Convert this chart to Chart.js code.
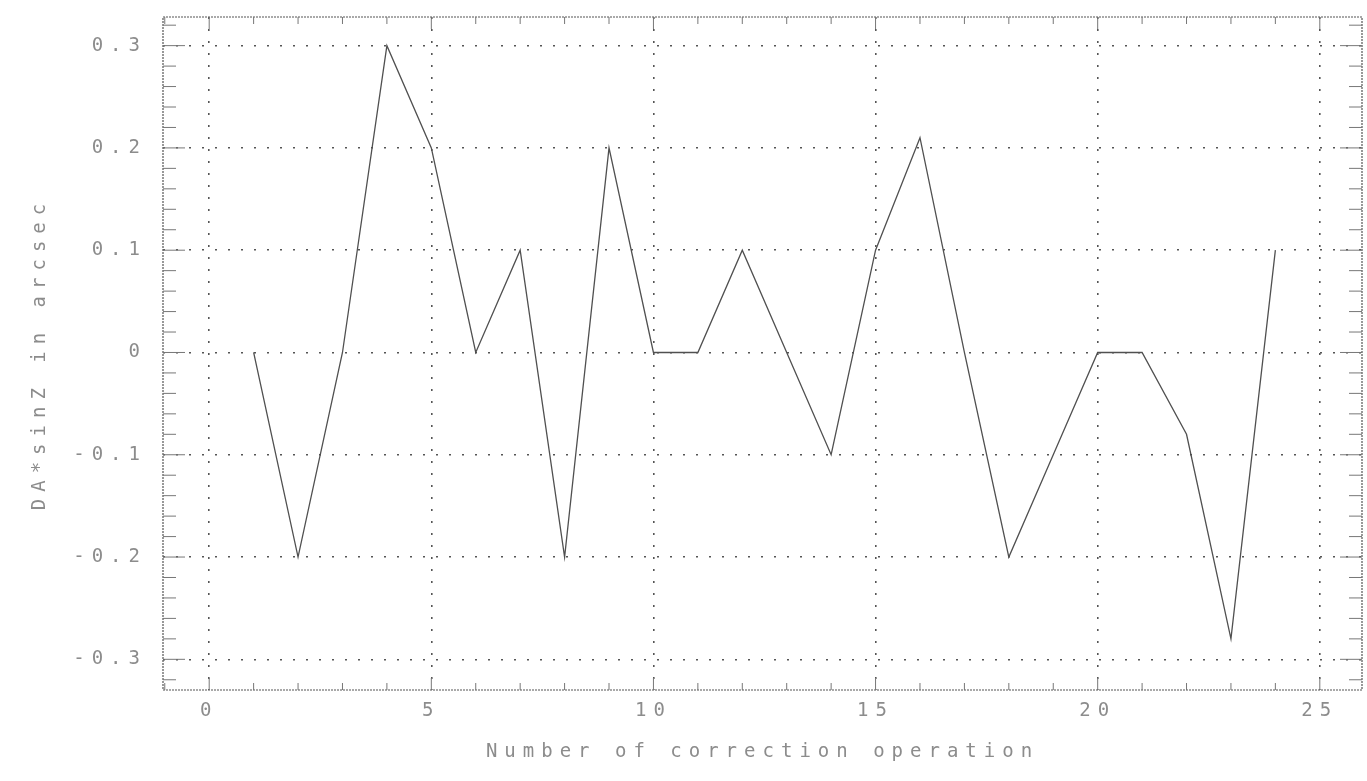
<!DOCTYPE html>
<html lang="en">
<head>
    <meta charset="UTF-8">
    <title>Correction operations</title>
    <script src="https://cdn.jsdelivr.net/npm/chart.js"></script>
    <style>
        html, body { margin: 0; padding: 0; background: #fff; }
        .chart-container { position: relative; width: 1367px; height: 781px; }
    </style>
</head>
<body>
    <div class="chart-container">
        <canvas id="corrChart"></canvas>
    </div>

    <script>
        // values
        const operations = [1, 2, 3, 4, 5, 6, 7, 8, 9, 10, 11, 12, 13, 14, 15, 16, 17, 18, 19, 20, 21, 22, 23, 24];
        const offsets = [0, -0.2, 0, 0.3, 0.2, 0, 0.1, -0.2, 0.2, 0, 0, 0.1, 0, -0.1, 0.1, 0.21, 0, -0.2, -0.1, 0, 0, -0.08, -0.28, 0.1];
        const xTicks = [0, 5, 10, 15, 20, 25];
        const yTicks = [-0.3, -0.2, -0.1, 0, 0.1, 0.2, 0.3];

        const labelFont = { family: 'DejaVu Sans Mono', size: 19 };
        const labelGrey = '#8c8c8c';

        // plotter look: wide letter spacing on all text
        const spacing = {
            id: 'spacing',
            beforeUpdate(chart) { chart.ctx.letterSpacing = '7px'; },
            beforeDraw(chart) { chart.ctx.letterSpacing = '7px'; }
        };

        // dotted frame plus the short inward tick marks on all four sides
        const frame = {
            id: 'frame',
            afterDraw(chart) {
                const ctx = chart.ctx;
                const a = chart.chartArea;
                const x = chart.scales.x;
                const y = chart.scales.y;
                ctx.save();
                ctx.strokeStyle = '#555';
                ctx.lineWidth = 1.2;
                ctx.setLineDash([2, 1]);
                ctx.strokeRect(a.left, a.top, a.right - a.left, a.bottom - a.top);
                ctx.setLineDash([]);
                ctx.beginPath();
                for (let i = -100; i <= 100; i += 2) {
                    const v = i / 100;
                    if (v < y.min || v > y.max) continue;
                    const py = y.getPixelForValue(v);
                    const len = i % 10 === 0 ? 22 : 13;
                    ctx.moveTo(a.left, py); ctx.lineTo(a.left + len, py);
                    ctx.moveTo(a.right, py); ctx.lineTo(a.right - len, py);
                }
                for (let v = -1; v <= 26; v++) {
                    if (v < x.min || v > x.max) continue;
                    const px = x.getPixelForValue(v);
                    const len = v % 5 === 0 ? 12 : 7;
                    ctx.moveTo(px, a.bottom); ctx.lineTo(px, a.bottom - len);
                    ctx.moveTo(px, a.top); ctx.lineTo(px, a.top + len);
                }
                ctx.strokeStyle = '#777';
                ctx.lineWidth = 1;
                ctx.stroke();
                ctx.restore();
            }
        };

        const config = {
            type: 'line',
            data: {
                datasets: [{
                    data: operations.map((op, i) => ({ x: op, y: offsets[i] })),
                    borderColor: '#505050',
                    borderWidth: 1.3,
                    pointRadius: 0,
                    tension: 0,
                    fill: false
                }]
            },
            options: {
                responsive: true,
                maintainAspectRatio: false,
                animation: false,
                layout: { padding: { top: 17, right: 5, left: 0, bottom: 0 } },
                plugins: {
                    legend: { display: false },
                    tooltip: { enabled: false }
                },
                scales: {
                    x: {
                        type: 'linear',
                        min: -1.04,
                        max: 25.95,
                        afterFit: s => { s.height = 91; s.paddingLeft = 0; s.paddingRight = 0; },
                        afterBuildTicks: s => { s.ticks = xTicks.map(v => ({ value: v })); },
                        // in v4 border.dash also dashes the grid lines
                        border: { display: false, dash: [2, 10] },
                        grid: {
                            color: '#555',
                            lineWidth: 1.6,
                            drawTicks: false
                        },
                        ticks: {
                            font: labelFont,
                            color: labelGrey,
                            padding: 10,
                            maxRotation: 0,
                            callback: v => String(v)
                        },
                        title: {
                            display: true,
                            text: 'Number of correction operation',
                            font: { family: 'DejaVu Sans Mono', size: 19 },
                            color: labelGrey,
                            padding: { top: 0, bottom: 18 }
                        }
                    },
                    y: {
                        min: -0.33,
                        max: 0.328,
                        afterFit: s => { s.width = 163; s.paddingTop = 0; s.paddingBottom = 0; },
                        afterBuildTicks: s => { s.ticks = yTicks.map(v => ({ value: v })); },
                        border: { display: false, dash: [2, 11] },
                        grid: {
                            color: '#555',
                            lineWidth: 1.6,
                            drawTicks: false
                        },
                        ticks: {
                            font: labelFont,
                            color: labelGrey,
                            padding: 16,
                            callback: v => (Math.abs(v) < 1e-9 ? '0' : v.toFixed(1))
                        },
                        title: {
                            display: true,
                            text: 'DA*sinZ in arcsec',
                            font: { family: 'DejaVu Sans Mono', size: 19 },
                            color: labelGrey,
                            padding: { top: 29, bottom: 0 }
                        }
                    }
                }
            },
            plugins: [spacing, frame]
        };

        const corrChart = new Chart(document.getElementById('corrChart'), config);
    </script>
</body>
</html>
